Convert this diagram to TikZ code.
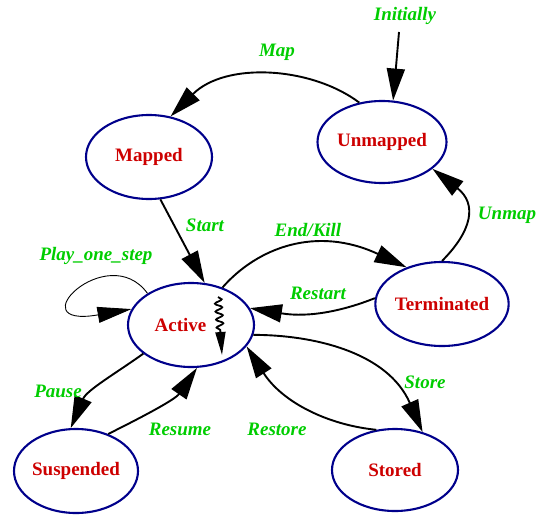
\documentclass[tikz,border=0pt]{standalone}
\usepackage{fontspec}
\setmainfont{Liberation Serif}
\usetikzlibrary{shapes.geometric,arrows.meta,decorations.pathmorphing}
\definecolor{nodered}{RGB}{205,0,0}
\definecolor{lblgreen}{RGB}{0,205,0}
\definecolor{ringblue}{RGB}{0,0,139}
\begin{document}
\begin{tikzpicture}[x=1pt,y=1pt,
 state/.style={ellipse, draw=ringblue, line width=2.1pt, inner sep=0pt, text=nodered, font=\fontsize{19}{22}\selectfont\bfseries},
 lbl/.style={text=lblgreen, font=\fontsize{19}{22}\selectfont\bfseries\itshape, inner sep=0pt},
 edge/.style={line width=1.9pt, -{Triangle[length=32pt,width=18pt]}},
 thinedge/.style={line width=0.9pt, -{Triangle[length=34pt,width=16pt]}},
]
\useasboundingbox (0,0) rectangle (537,515);
\node[state, minimum width=126pt, minimum height=84pt] (mapped) at (149,358) {Mapped};
\node[state, minimum width=129pt, minimum height=82pt] (unmapped) at (382,373) {Unmapped};
\node[state, minimum width=126pt, minimum height=84pt] (active) at (191,190) {Active\hspace*{21pt}};
\node[state, minimum width=126pt, minimum height=84pt] (term) at (442,211) {Terminated};
\node[state, minimum width=124pt, minimum height=84pt] (susp) at (76,44) {Suspended};
\node[state, minimum width=126pt, minimum height=82pt] (stored) at (395,45) {Stored};

\coordinate (init) at (399,483);
\draw[edge] (init) -- (unmapped.75);
\node[lbl] (linit) at (405,499) {Initially};

\draw[edge] (unmapped.120) .. controls +(-48,36) and +(55,55) .. (mapped.62);
\node[lbl] (lmap) at (277,463) {Map};

\draw[edge] (mapped.-75) -- (active.72);
\node[lbl] (lstart) at (205,290) {Start};

\draw[edge] (active.50) .. controls +(35,40) and +(-90,42) .. (term.134);
\node[lbl] (lend) at (308,285) {End/Kill};

\draw[edge] (term.175) .. controls +(-30,-12) and +(60,-10) .. (active.16);
\node[lbl] (lrestart) at (318,222) {Restart};

\draw[edge] (term.90) .. controls +(30,30) and +(45,-35) .. (unmapped.-28);
\node[lbl] (lunmap) at (507,300) {Unmap};

\draw[thinedge] (active.144) .. controls +(-40,55) and +(-115,-20) .. (active.165);
\node[lbl] (lplay) at (96,259) {Play\_one\_step};

\coordinate (w1) at (218,218);
\coordinate (w2) at (222,160);
\draw[line width=1.8pt, -{Triangle[length=23pt,width=10pt]}, decorate, decoration={snake, segment length=8pt, amplitude=3.5pt, post length=25pt}] (w1) -- (w2);

\draw[edge] (active.211) .. controls +(-28,-20) and +(16,38) .. (susp.97);
\node[lbl] (lpause) at (58,124) {Pause};

\draw[edge] (susp.49) .. controls +(32,16) and +(-22,-32) .. (active.-82);
\node[lbl] (lresume) at (180,86) {Resume};

\draw[edge] (active.-9) .. controls +(60,0) and +(-35,80) .. (stored.54);
\node[lbl] (lstore) at (425,133) {Store};

\draw[edge] (stored.115) .. controls +(-50,5) and +(35,-55) .. (active.-21);
\node[lbl] (lrestore) at (277,86) {Restore};
\end{tikzpicture}
\end{document}
